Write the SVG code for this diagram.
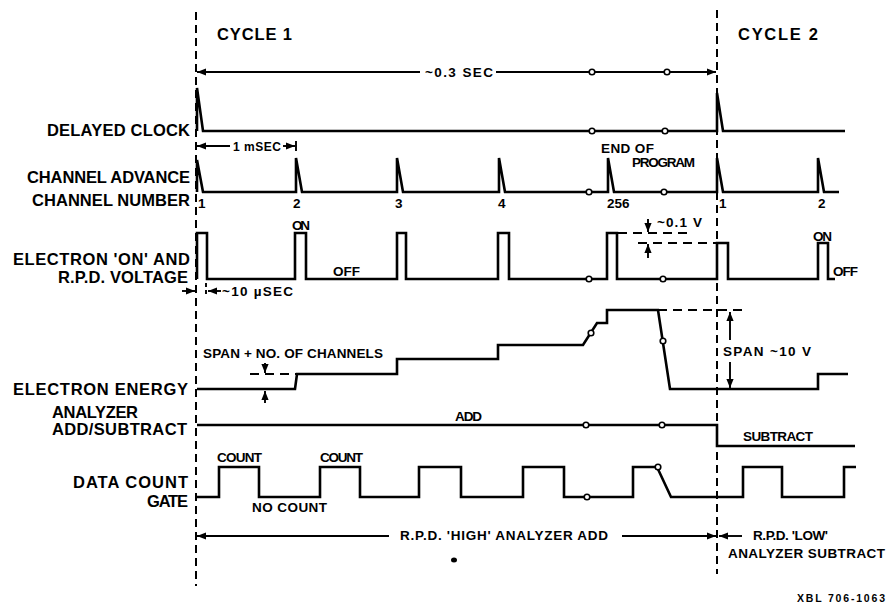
<svg xmlns="http://www.w3.org/2000/svg" width="888" height="604" viewBox="0 0 888 604">
<defs>
<marker id="ah" viewBox="0 0 10 10" refX="10" refY="5" markerWidth="9" markerHeight="9" markerUnits="userSpaceOnUse" orient="auto-start-reverse">
<path d="M0,1 L10,5 L0,9 Z" fill="#000"/>
</marker>
</defs>
<style>
.sig{fill:none;stroke:#000;stroke-width:2.6;stroke-linejoin:miter}
.ln{fill:none;stroke:#000;stroke-width:1.9}
.dv{fill:none;stroke:#000;stroke-width:2;stroke-dasharray:8 5}
.dh{fill:none;stroke:#000;stroke-width:1.9;stroke-dasharray:9 6}
.brk{fill:#fff;stroke:#000;stroke-width:1.6}
text{font-family:"Liberation Sans",Arial,sans-serif;font-weight:bold;fill:#000}
.L{font-size:16.5px}
.s{font-size:13.5px}
.xs{font-size:12px}
</style>
<rect width="888" height="604" fill="#fff"/>

<g id="cycle-bounds">
<line class="dv" x1="196" y1="12" x2="196" y2="586"/>
<line class="dv" x1="717" y1="10" x2="717" y2="574"/>
</g>

<g id="labels">
<text class="L" x="217" y="40" textLength="75" lengthAdjust="spacing">CYCLE 1</text>
<text class="L" x="738" y="40" textLength="80" lengthAdjust="spacing">CYCLE 2</text>
<text class="L" x="47" y="136" textLength="143" lengthAdjust="spacing">DELAYED CLOCK</text>
<text class="L" x="27" y="183" textLength="163" lengthAdjust="spacing">CHANNEL ADVANCE</text>
<text class="L" x="32" y="206" textLength="158" lengthAdjust="spacing">CHANNEL NUMBER</text>
<text class="L" x="13" y="265" textLength="177" lengthAdjust="spacing">ELECTRON 'ON' AND</text>
<text class="L" x="58" y="283" textLength="130" lengthAdjust="spacing">R.P.D. VOLTAGE</text>
<text class="L" x="13" y="395" textLength="175" lengthAdjust="spacing">ELECTRON ENERGY</text>
<text class="L" x="52" y="418" textLength="86" lengthAdjust="spacing">ANALYZER</text>
<text class="L" x="52" y="435" textLength="135" lengthAdjust="spacing">ADD/SUBTRACT</text>
<text class="L" x="73" y="488" textLength="115" lengthAdjust="spacing">DATA COUNT</text>
<text class="L" x="147" y="507" textLength="41" lengthAdjust="spacing">GATE</text>
</g>

<g id="timing-connectors">
<line class="ln" x1="420" y1="72" x2="197" y2="72" marker-end="url(#ah)"/>
<line class="ln" x1="496" y1="72" x2="716" y2="72" marker-end="url(#ah)"/>
<text class="s" x="425" y="77" textLength="68" lengthAdjust="spacing">~0.3 SEC</text>
<line class="ln" x1="230" y1="146" x2="197" y2="146" marker-end="url(#ah)"/>
<line class="ln" x1="283" y1="146" x2="295" y2="146" marker-end="url(#ah)"/>
<line class="ln" x1="296" y1="141" x2="296" y2="151"/>
<text class="xs" x="233" y="151" textLength="48" lengthAdjust="spacing">1 mSEC</text>
<line class="ln" x1="182" y1="291" x2="195" y2="291" marker-end="url(#ah)"/>
<line class="ln" x1="221" y1="291" x2="208" y2="291" marker-end="url(#ah)"/>
<line class="ln" x1="206" y1="283" x2="206" y2="297" stroke-dasharray="4 3"/>
<text class="s" x="222" y="296" textLength="71" lengthAdjust="spacing">~10 µSEC</text>
<line class="dh" x1="618" y1="233" x2="688" y2="233"/>
<line class="dh" x1="638" y1="243" x2="716" y2="243"/>
<line class="ln" x1="648" y1="219" x2="648" y2="232" marker-end="url(#ah)"/>
<line class="ln" x1="648" y1="258" x2="648" y2="244" marker-end="url(#ah)"/>
<text class="s" x="657" y="227" textLength="45" lengthAdjust="spacing">~0.1 V</text>
<line class="dh" x1="250" y1="374" x2="297" y2="374"/>
<line class="ln" x1="265" y1="363" x2="265" y2="373" marker-end="url(#ah)"/>
<line class="ln" x1="265" y1="403" x2="265" y2="391" marker-end="url(#ah)"/>
<text class="s" x="203" y="358" textLength="180" lengthAdjust="spacing">SPAN + NO. OF CHANNELS</text>
<line class="dh" x1="658" y1="310" x2="743" y2="310"/>
<line class="ln" x1="730" y1="340" x2="730" y2="312" marker-end="url(#ah)"/>
<line class="ln" x1="730" y1="362" x2="730" y2="388" marker-end="url(#ah)"/>
<text class="s" x="723" y="356" textLength="88" lengthAdjust="spacing">SPAN ~10 V</text>
<line class="ln" x1="389" y1="536" x2="197" y2="536" marker-end="url(#ah)"/>
<line class="ln" x1="622" y1="536" x2="716" y2="536" marker-end="url(#ah)"/>
<line class="ln" x1="742" y1="536" x2="719" y2="536" marker-end="url(#ah)"/>
<text class="s" x="400" y="540" textLength="208" lengthAdjust="spacing">R.P.D. 'HIGH' ANALYZER ADD</text>
<text class="s" x="753" y="540" textLength="75" lengthAdjust="spacing">R.P.D. 'LOW'</text>
<text class="s" x="728" y="558" textLength="157" lengthAdjust="spacing">ANALYZER SUBTRACT</text>
</g>

<g id="delayed-clock">
<path class="sig" d="M197,131 L197,88 L203,131 L717,131 L717,93 L723,131 L845,131"/>
<circle class="brk" cx="592" cy="131" r="2.8"/>
<circle class="brk" cx="665" cy="131" r="2.8"/>
</g>
<g id="break-marks-top">
<circle class="brk" cx="592" cy="72" r="2.8"/>
<circle class="brk" cx="667" cy="72" r="2.8"/>
</g>

<g id="channel-advance">
<path class="sig" d="M197,192 L197,160 L203,192 L296,192 L296,158 L302,192 L397,192 L397,158 L403,192 L499,192 L499,158 L505,192 L608,192 L608,158 L614,192 L717,192 L717,158 L723,192 L818,192 L818,158 L824,192 L839,192"/>
<circle class="brk" cx="589" cy="192" r="2.8"/>
<circle class="brk" cx="664" cy="192" r="2.8"/>
<text class="s" x="601" y="153" textLength="53" lengthAdjust="spacing">END OF</text>
<text class="s" x="632" y="167" textLength="63" lengthAdjust="spacing">PROGRAM</text>
<text class="s" x="198" y="208">1</text>
<text class="s" x="293" y="208">2</text>
<text class="s" x="395" y="208">3</text>
<text class="s" x="498" y="208">4</text>
<text class="s" x="607" y="208">256</text>
<text class="s" x="719" y="208">1</text>
<text class="s" x="818" y="208">2</text>
</g>

<g id="electron-on">
<path class="sig" d="M197,279 L197,233 L207,233 L207,279 L295,279 L295,233 L306,233 L306,279 L397,279 L397,233 L406,233 L406,279 L498,279 L498,233 L509,233 L509,279 L607,279 L607,233 L617,233 L617,279 L717,279 L717,243 L728,243 L728,279 L818,279 L818,243 L828,243 L828,279 L835,279"/>
<circle class="brk" cx="589" cy="279" r="2.8"/>
<circle class="brk" cx="663" cy="279" r="2.8"/>
<text class="s" x="292" y="230" textLength="18" lengthAdjust="spacing">ON</text>
<text class="s" x="333" y="276" textLength="27" lengthAdjust="spacing">OFF</text>
<text class="s" x="813" y="241" textLength="19" lengthAdjust="spacing">ON</text>
<text class="s" x="833" y="276" textLength="25" lengthAdjust="spacing">OFF</text>
</g>

<g id="electron-energy">
<path class="sig" d="M197,389 L295,389 L297,374 L397,374 L397,359 L498,359 L498,345 L583,345 L597,323 L607,323 L607,310 L658,310 L670,389 L818,389 L818,374 L848,374"/>
<circle class="brk" cx="591" cy="333" r="2.8"/>
<circle class="brk" cx="663" cy="341" r="2.8"/>
</g>

<g id="analyzer-add-subtract">
<path class="sig" d="M197,425 L717,425 L717,446 L855,446"/>
<circle class="brk" cx="586" cy="425" r="2.8"/>
<circle class="brk" cx="662" cy="425" r="2.8"/>
<text class="s" x="455" y="421" textLength="27" lengthAdjust="spacing">ADD</text>
<text class="s" x="743" y="441" textLength="70" lengthAdjust="spacing">SUBTRACT</text>
</g>

<g id="data-count-gate">
<path class="sig" d="M197,497 L219,497 L219,467 L259,467 L259,497 L320,497 L320,467 L360,467 L360,497 L419,497 L419,467 L461,467 L461,497 L523,497 L523,467 L564,467 L564,497 L633,497 L633,467 L657,467 L671,497 L743,497 L743,467 L782,467 L782,497 L844,497 L844,467 L856,467"/>
<circle class="brk" cx="587" cy="497" r="2.8"/>
<circle class="brk" cx="658" cy="467" r="2.8"/>
<text class="s" x="217" y="462" textLength="45" lengthAdjust="spacing">COUNT</text>
<text class="s" x="320" y="462" textLength="43" lengthAdjust="spacing">COUNT</text>
<text class="s" x="252" y="512" textLength="75" lengthAdjust="spacing">NO COUNT</text>
</g>

<ellipse cx="454" cy="560" rx="3" ry="2.5" fill="#000"/>
<text style="font-size:10.5px" x="797" y="602" textLength="88" lengthAdjust="spacing">XBL 706-1063</text>
</svg>
